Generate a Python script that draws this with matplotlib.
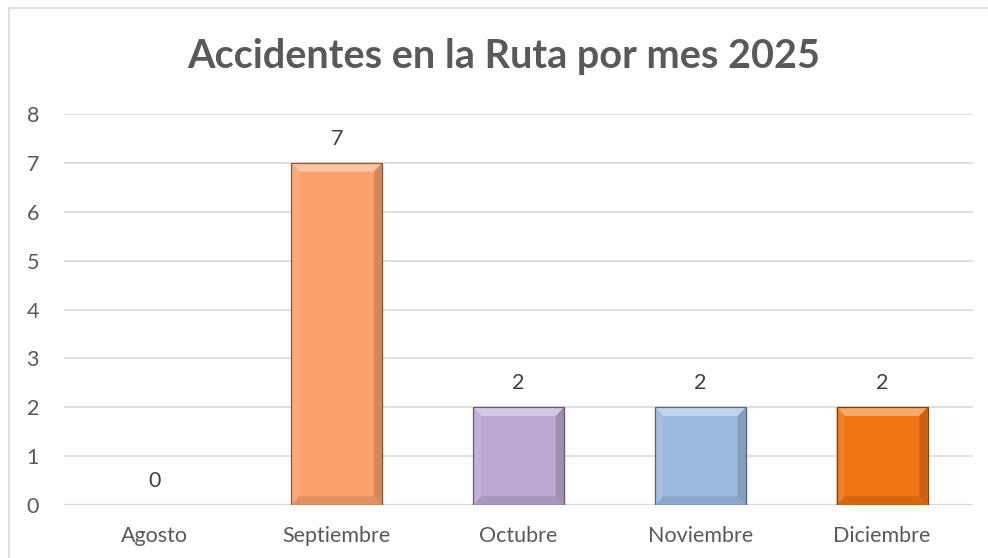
import numpy as np
import matplotlib.pyplot as plt
from matplotlib.patches import Polygon, Rectangle
from matplotlib.colors import to_rgb

meses = ['Agosto', 'Septiembre', 'Octubre', 'Noviembre', 'Diciembre']
accidentes = [0, 7, 2, 2, 2]
colores = ['#FBA26C', '#FBA26C', '#BBA9D2', '#9DBBE1', '#EF7413']
titulo = 'Accidentes en la Ruta por mes 2025'

plt.rcParams['font.family'] = ['Lato', 'DejaVu Sans']
gris = '#595959'


def mezclar(c, otro, t):
    c = np.array(to_rgb(c))
    return tuple(c + (np.array(to_rgb(otro)) - c) * t)


fig = plt.figure(figsize=(9.88, 5.58), dpi=100)
fig.patches.append(Rectangle((8.5 / 988, -0.1), 1.2, (558 - 8.5) / 558 + 0.1,
                             transform=fig.transFigure, fill=False,
                             edgecolor='#D9D9D9', linewidth=1.2))
ax = fig.add_axes([64 / 988, 53 / 558, 909 / 988, 391 / 558])

x = np.arange(len(meses))
ancho = 0.5
bars = ax.bar(x, accidentes, width=ancho, color=colores, zorder=3,
              edgecolor='none')

# efecto bisel estilo Excel
bx, by = 0.045, 0.18
for b, c in zip(bars, colores):
    h = b.get_height()
    if h <= 0:
        continue
    x0, x1 = b.get_x(), b.get_x() + b.get_width()
    # sombra suave
    for k, a in [(0.02, 0.06), (0.012, 0.08)]:
        ax.add_patch(Rectangle((x0 + k / 2, -k * 3), b.get_width(), h,
                               color='#000000', alpha=a, zorder=2, lw=0))
    caras = [
        ([(x0, h), (x1, h), (x1 - bx, h - by), (x0 + bx, h - by)], mezclar(c, 'white', 0.38)),
        ([(x0, 0), (x1, 0), (x1 - bx, by), (x0 + bx, by)], mezclar(c, 'black', 0.1)),
        ([(x0, 0), (x0, h), (x0 + bx, h - by), (x0 + bx, by)], mezclar(c, 'white', 0.08)),
        ([(x1, 0), (x1, h), (x1 - bx, h - by), (x1 - bx, by)], mezclar(c, 'black', 0.16)),
    ]
    for pts, col in caras:
        ax.add_patch(Polygon(pts, closed=True, facecolor=col, edgecolor='none', zorder=4))
    ax.add_patch(Rectangle((x0, 0), b.get_width(), h, fill=False,
                           edgecolor=mezclar(c, 'black', 0.45), linewidth=0.9, zorder=5))

for xi, v in zip(x, accidentes):
    ax.annotate(str(v), (xi, v), xytext=(0, 13), textcoords='offset points',
                ha='center', va='baseline', fontsize=15.5, color='#404040')

ax.set_xlim(-0.5, len(meses) - 0.5)
ax.set_ylim(0, 8)
ax.set_yticks(range(0, 9))
ax.set_xticks(x)
ax.set_xticklabels(meses)
ax.tick_params(axis='both', length=0, labelsize=15.5, colors=gris)
ax.tick_params(axis='x', pad=15)
ax.tick_params(axis='y', pad=18)
ax.grid(axis='y', color='#D9D9D9', linewidth=1.2, zorder=0)
for s in ax.spines.values():
    s.set_visible(False)
ax.axhline(0, color='#D9D9D9', linewidth=1.6, zorder=1)

fig.text(0.5 + 8 / 988 / 2 + 6 / 988, 1 - 68 / 558, titulo, ha='center', va='baseline',
         fontsize=28.5, fontweight='bold', color=gris)

fig.savefig('out.png', dpi=100)
